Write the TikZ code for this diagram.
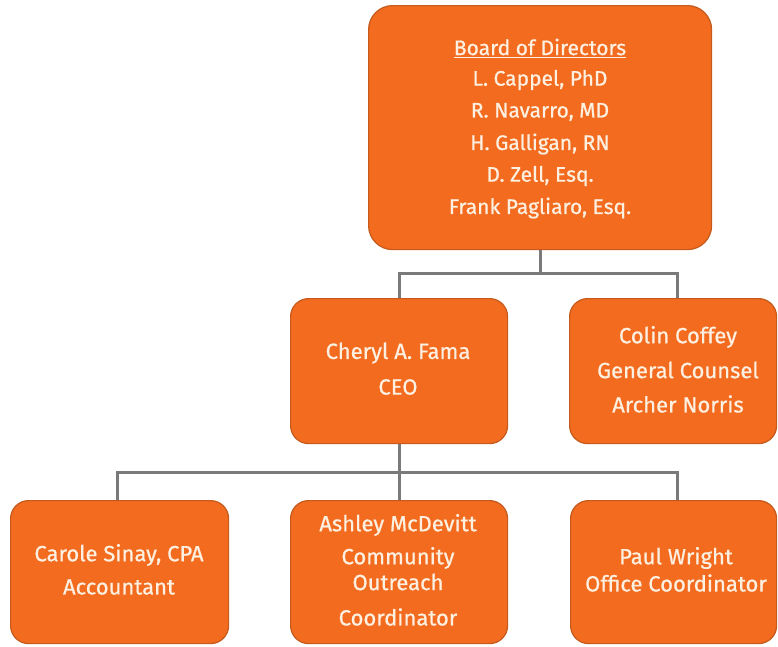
\documentclass[tikz,border=0pt]{standalone}
\usepackage{fontspec}
\setmainfont{Fira Sans}[FakeBold=0.8]
\definecolor{boxfill}{HTML}{F26B1F}
\definecolor{boxline}{HTML}{C45A1C}
\definecolor{txt}{HTML}{FDF0E0}
\definecolor{conn}{HTML}{7A7A7A}
\tikzset{
  box/.style={draw=boxline, line width=1.2pt, fill=boxfill, rounded corners=18pt, inner sep=0pt, anchor=north west},
  lbl/.style={text=txt, font=\fontsize{22}{24}\selectfont, inner sep=0pt, anchor=center},
  blbl/.style={lbl, font=\fontsize{21}{22}\selectfont},
  link/.style={draw=conn, line width=3pt}
}
\begin{document}
\begin{tikzpicture}[x=1pt,y=-1pt]
\useasboundingbox (0,0) rectangle (778,646);
% boxes
\node[box, rounded corners=24pt, minimum width=343pt, minimum height=244pt] (board) at (368,5) {};
\node[box, minimum width=217pt, minimum height=145pt] (ceo) at (290,298) {};
\node[box, minimum width=207pt, minimum height=145pt] (colin) at (569,298) {};
\node[box, minimum width=218pt, minimum height=143pt] (carole) at (10,500) {};
\node[box, minimum width=217pt, minimum height=143pt] (ashley) at (290,500) {};
\node[box, minimum width=206pt, minimum height=143pt] (paul) at (570,500) {};
% connectors
\coordinate (j1) at (board.south |- 0,273);
\coordinate (j2) at (ceo.south |- 0,472);
\draw[link] (board.south) -- (j1);
\draw[link] (j1) -| (ceo.north);
\draw[link] (j1) -| ([xshift=4pt]colin.north);
\draw[link] (ceo.south) -- (j2);
\draw[link] (j2) -| ([xshift=-2pt]carole.north);
\draw[link] (j2) -| (ashley.north);
\draw[link] (j2) -| ([xshift=4pt]paul.north);
% board text
\node[blbl] (b0) at (540,48) {\underline{Board of Directors}};
\node[blbl] (b1) at (540,80) {L. Cappel, PhD};
\node[blbl] (b2) at (540,112) {R. Navarro, MD};
\node[blbl] (b3) at (540,144) {H. Galligan, RN};
\node[blbl] (b4) at (540,176) {D. Zell, Esq.};
\node[blbl] (b5) at (540,208) {Frank Pagliaro, Esq.};
% CEO
\node[lbl] (c0) at (398,353) {Cheryl A. Fama};
\node[lbl] (c1) at (398,387) {CEO};
% Colin
\node[lbl] (g0) at (678,337) {Colin Coffey};
\node[lbl] (g1) at (678,370) {General Counsel};
\node[lbl] (g2) at (678,404) {Archer Norris};
% Carole
\node[lbl] (a0) at (119,555) {Carole Sinay, CPA};
\node[lbl] (a1) at (119,587) {Accountant};
% Ashley
\node[lbl] (m0) at (398,525) {Ashley McDevitt};
\node[lbl] (m1) at (398,558) {Community};
\node[lbl] (m2) at (398,582) {Outreach};
\node[lbl] (m3) at (398,617) {Coordinator};
% Paul
\node[lbl] (p0) at (676,558) {Paul Wright};
\node[lbl] (p1) at (676,583) {Office Coordinator};
\end{tikzpicture}
\end{document}
